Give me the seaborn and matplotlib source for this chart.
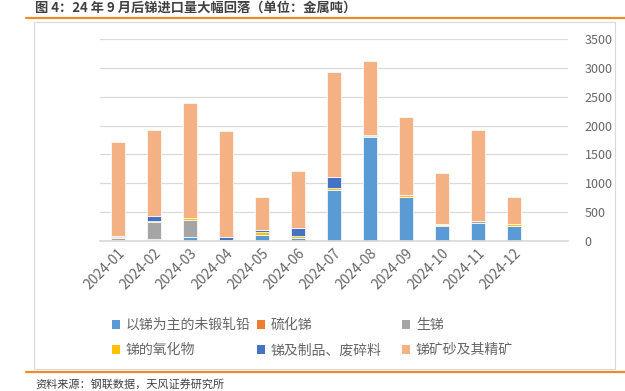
import numpy as np
import pandas as pd
import seaborn as sns
import matplotlib.pyplot as plt
from matplotlib.patches import Rectangle, Patch
from matplotlib.lines import Line2D

months = ['2024-01', '2024-02', '2024-03', '2024-04', '2024-05', '2024-06',
          '2024-07', '2024-08', '2024-09', '2024-10', '2024-11', '2024-12']

# 单位：金属吨
weiduan = [10, 15, 75, 0, 110, 50, 880, 1800, 760, 260, 310, 255]     # 以锑为主的未锻轧铅
liuhua = [5, 20, 0, 0, 0, 0, 0, 0, 0, 15, 0, 10]                      # 硫化锑
shengti = [30, 295, 290, 20, 0, 0, 10, 0, 0, 0, 30, 0]                # 生锑
yanghua = [20, 25, 25, 0, 45, 30, 35, 15, 35, 25, 0, 25]              # 锑的氧化物
zhipin = [15, 75, 0, 45, 35, 145, 190, 20, 10, 0, 0, 0]               # 锑及制品、废碎料
kuang = [1630, 1490, 2000, 1835, 570, 995, 1805, 1285, 1340, 875, 1580, 470]  # 锑矿砂及其精矿

series_names = ['以锑为主的未锻轧铅', '硫化锑', '生锑', '锑的氧化物', '锑及制品、废碎料', '锑矿砂及其精矿']
series_vals = [weiduan, liuhua, shengti, yanghua, zhipin, kuang]
colors = ['#5B9BD5', '#ED7D31', '#A5A5A5', '#FFC000', '#4472C4', '#F4B183']

sns.set_theme(style='white')
plt.rcParams['font.family'] = ['Noto Sans CJK SC', 'DejaVu Sans']

fig = plt.figure(figsize=(6.25, 3.91), dpi=100)
W, H = 625, 391
ax = fig.add_axes([100 / W, 1 - 241 / H, 468 / W, 202 / H])

bottom = np.zeros(len(months))
for name, vals, c in zip(series_names, series_vals, colors):
    sns.barplot(x=months, y=vals, bottom=bottom, color=c, saturation=1, width=0.38,
                edgecolor='white', linewidth=0.5, ax=ax, label=name)
    bottom = bottom + np.array(vals)

ax.set_xlim(-0.5, 12.5)
ax.set_ylim(0, 3500)
ax.set_yticks(range(0, 3501, 500))
ax.yaxis.tick_right()
ax.yaxis.grid(True, color='#D9D9D9', linewidth=0.9)
ax.set_axisbelow(True)
for s in ['top', 'left', 'right']:
    ax.spines[s].set_visible(False)
ax.spines['bottom'].set_color('#D9D9D9')
ax.tick_params(axis='y', length=0, pad=12, labelsize=9, labelcolor='#666666')
ax.tick_params(axis='x', length=0, pad=4, labelsize=10, labelcolor='#666666')
plt.setp(ax.get_xticklabels(), rotation=45, ha='right', rotation_mode='anchor')
ax.set_xlabel('')
ax.set_ylabel('')
if ax.get_legend() is not None:
    ax.get_legend().remove()

# 图例：三列两行
cols = [(0, 3), (1, 4), (2, 5)]
xs = [112, 257, 402]
for (i, j), x0 in zip(cols, xs):
    handles = [Patch(facecolor=colors[k], edgecolor='none') for k in (i, j)]
    leg = fig.legend(handles, [series_names[i], series_names[j]], loc='upper left',
                     bbox_to_anchor=(x0 / W, 1 - 318 / H), frameon=False, fontsize=10,
                     handlelength=0.6, handleheight=0.6, handletextpad=0.4,
                     labelspacing=0.8, borderaxespad=0, borderpad=0,
                     labelcolor='#666666')

# 外框与橙色分隔线
fig.patches.append(Rectangle((34 / W, 1 - 369 / H), 581 / W, 347 / H, transform=fig.transFigure,
                             fill=False, edgecolor='#D9D9D9', linewidth=0.8))
fig.add_artist(Line2D([26 / W, 1], [1 - 18 / H, 1 - 18 / H], color='#F08A24', linewidth=1.6))
fig.add_artist(Line2D([26 / W, 1], [1 - 372 / H, 1 - 372 / H], color='#F08A24', linewidth=1.6))

fig.text(35 / W, 1 - 1 / H, '图 4：24 年 9 月后锑进口量大幅回落（单位：金属吨）', fontsize=9.5,
         fontweight='bold', color='#404040', va='top', ha='left')
fig.text(35 / W, 1 - 384 / H, '资料来源：钢联数据，天风证券研究所', fontsize=8,
         color='#404040', va='center', ha='left')

fig.savefig('out.png', dpi=100)
